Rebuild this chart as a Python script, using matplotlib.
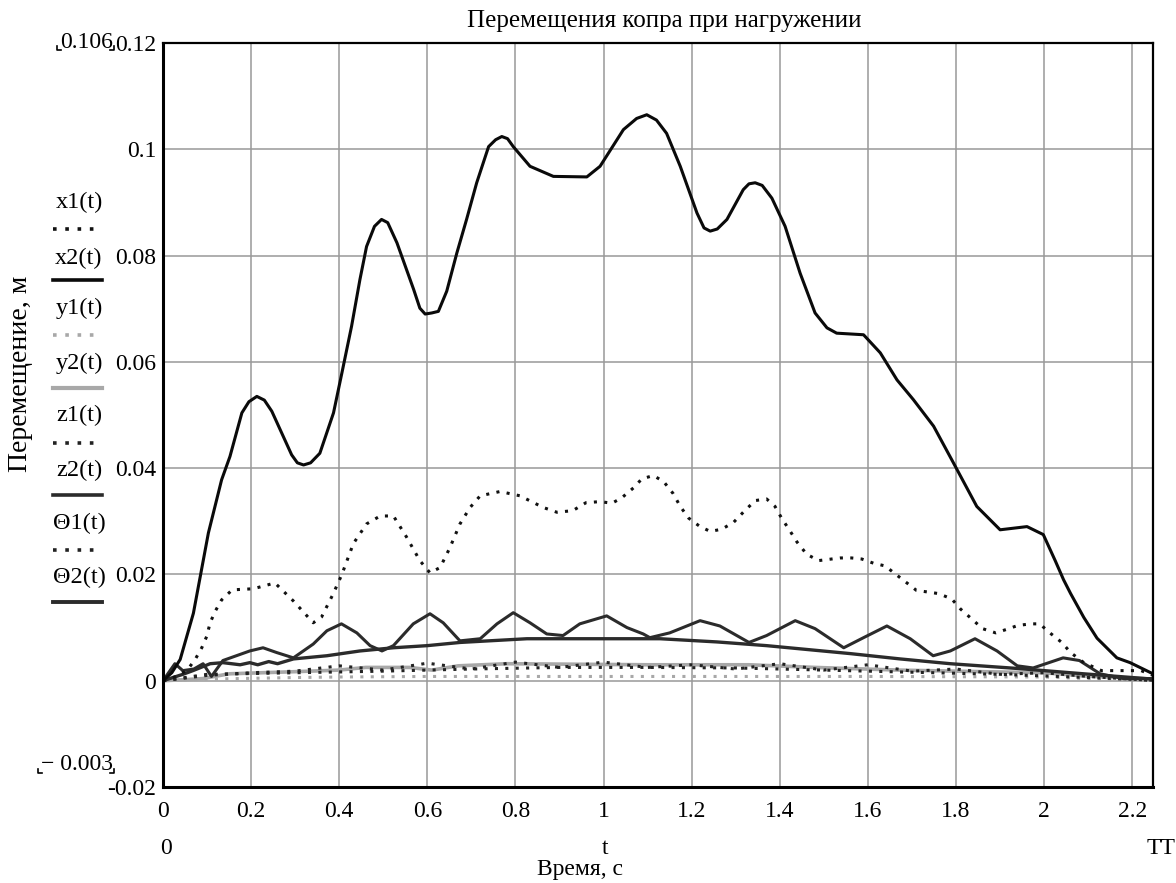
import matplotlib
matplotlib.use("Agg")
import matplotlib.pyplot as plt
from matplotlib.lines import Line2D

plt.rcParams["font.family"] = ["Liberation Serif", "DejaVu Serif"]
plt.rcParams["font.size"] = 17

W, H = 1176, 883

# ── data (t in s, displacement in m) ────────────────────────────────────
t_x2 = [0, 0.02, 0.039, 0.069, 0.103, 0.133, 0.152, 0.179, 0.195, 0.213,
        0.23, 0.247, 0.292, 0.305, 0.319, 0.335, 0.356, 0.387, 0.406, 0.428,
        0.447, 0.462, 0.48, 0.496, 0.51, 0.531, 0.569, 0.583, 0.595, 0.61,
        0.625, 0.644, 0.667, 0.689, 0.712, 0.739, 0.755, 0.769, 0.782, 0.795,
        0.833, 0.886, 0.962, 0.992, 1.045, 1.075, 1.098, 1.12, 1.143, 1.174,
        1.212, 1.228, 1.242, 1.258, 1.28, 1.317, 1.33, 1.344, 1.36, 1.382,
        1.412, 1.446, 1.48, 1.507, 1.529, 1.59, 1.628, 1.666, 1.703, 1.749,
        1.794, 1.847, 1.9, 1.961, 1.998, 2.025, 2.044, 2.06, 2.09, 2.12,
        2.165, 2.195, 2.247]
x2 = [0, 0.0015, 0.004, 0.0127, 0.0278, 0.0378, 0.0422, 0.0504, 0.0525, 0.0535,
      0.0528, 0.0507, 0.0425, 0.041, 0.0406, 0.041, 0.0428, 0.0504, 0.0579, 0.0667,
      0.0755, 0.0817, 0.0855, 0.0868, 0.0862, 0.0824, 0.0736, 0.0701, 0.069, 0.0692,
      0.0695, 0.0733, 0.0805, 0.0868, 0.0937, 0.1005, 0.1018, 0.1024, 0.102, 0.1005,
      0.0968, 0.0949, 0.0948, 0.0968, 0.1037, 0.1058, 0.1065, 0.1055, 0.103, 0.0968,
      0.088, 0.0852, 0.0846, 0.085, 0.0868, 0.0924, 0.0935, 0.0937, 0.0932, 0.0908,
      0.0855, 0.0767, 0.0692, 0.0664, 0.0654, 0.0651, 0.0617, 0.0566, 0.0529, 0.0479,
      0.041, 0.0328, 0.0284, 0.029, 0.0275, 0.0226, 0.019, 0.0164, 0.0119, 0.008,
      0.0043, 0.0034, 0.0013]

t_x1 = [0, 0.03, 0.055, 0.073, 0.088, 0.099, 0.107, 0.118, 0.133, 0.157,
        0.205, 0.254, 0.296, 0.341, 0.36, 0.386, 0.406, 0.432, 0.462, 0.493,
        0.523, 0.553, 0.583, 0.606, 0.629, 0.651, 0.674, 0.697, 0.72, 0.765,
        0.81, 0.863, 0.894, 0.93, 0.96, 0.992, 1.019, 1.041, 1.068, 1.087,
        1.113, 1.136, 1.158, 1.174, 1.193, 1.219, 1.242, 1.268, 1.295, 1.317,
        1.344, 1.37, 1.389, 1.404, 1.423, 1.439, 1.461, 1.488, 1.537, 1.563,
        1.586, 1.613, 1.639, 1.662, 1.69, 1.71, 1.76, 1.79, 1.81, 1.84,
        1.86, 1.89, 1.92, 1.94, 1.97, 1.99, 2.01, 2.04, 2.06, 2.09,
        2.13, 2.19, 2.22, 2.247]
x1 = [0, 0.0008, 0.002, 0.004, 0.0062, 0.0083, 0.0109, 0.013, 0.0152, 0.0171,
      0.0173, 0.0184, 0.015, 0.0109, 0.012, 0.0163, 0.020, 0.0258, 0.0295, 0.031,
      0.031, 0.027, 0.0226, 0.0203, 0.0213, 0.025, 0.0295, 0.0326, 0.0348, 0.0356,
      0.0348, 0.0326, 0.0317, 0.032, 0.0335, 0.0337, 0.0334, 0.0344, 0.0363, 0.038,
      0.0386, 0.0375, 0.0352, 0.0328, 0.0306, 0.029, 0.0281, 0.0285, 0.0298, 0.0317,
      0.0339, 0.0342, 0.0328, 0.0306, 0.0282, 0.0261, 0.0238, 0.0226, 0.0231, 0.0231,
      0.0229, 0.0221, 0.0216, 0.0201, 0.0183, 0.017, 0.0164, 0.0154, 0.0135, 0.0113,
      0.0098, 0.009, 0.0098, 0.0104, 0.0107, 0.0107, 0.0092, 0.0072, 0.0053, 0.0034,
      0.0019, 0.0019, 0.0019, 0.001]

t_y1 = [0, 0.1, 0.3, 0.4, 0.6, 1.0, 1.6, 2.0, 2.1, 2.247]
y1 = [0, 0.0003, 0.0006, 0.0007, 0.0008, 0.0008, 0.0008, 0.0007, 0.0004, 0.0001]

t_y2 = [0, 0.05, 0.09, 0.15, 0.3, 0.4, 0.46, 0.56, 0.61, 0.67, 0.78, 1.1,
        1.33, 1.48, 1.67, 1.86, 2.0, 2.09, 2.247]
y2 = [0, 0.0002, 0.0004, 0.0013, 0.0017, 0.002, 0.0025, 0.0025, 0.002, 0.0028,
      0.0032, 0.003, 0.003, 0.0025, 0.002, 0.0017, 0.0015, 0.0009, 0.0003]

t_z1 = [0, 0.1, 0.2, 0.3, 0.4, 0.5, 0.6, 0.7, 0.8, 0.9, 1.0, 1.1, 1.2,
        1.3, 1.4, 1.5, 1.6, 1.7, 1.8, 1.9, 2.0, 2.1, 2.2, 2.247]
z1 = [0, 0.001, 0.0015, 0.0018, 0.0028, 0.002, 0.0033, 0.0022, 0.0035, 0.0025,
      0.0035, 0.0025, 0.003, 0.0022, 0.0032, 0.002, 0.003, 0.0018, 0.0022, 0.0012,
      0.0015, 0.0008, 0.0003, 0]

t_z2 = [0, 0.027, 0.045, 0.07, 0.091, 0.11, 0.136, 0.197, 0.227, 0.258,
        0.296, 0.341, 0.372, 0.405, 0.44, 0.47, 0.497, 0.523, 0.568, 0.606,
        0.636, 0.674, 0.72, 0.758, 0.795, 0.833, 0.871, 0.908, 0.946, 1.007,
        1.053, 1.09, 1.105, 1.15, 1.219, 1.264, 1.33, 1.37, 1.435, 1.48,
        1.545, 1.59, 1.643, 1.696, 1.748, 1.787, 1.843, 1.893, 1.939, 1.975,
        2.043, 2.08, 2.127, 2.18, 2.247]
z2 = [0, 0.0032, 0.0019, 0.0022, 0.0032, 0.0008, 0.0038, 0.0056, 0.0062, 0.0053,
      0.0043, 0.0069, 0.0094, 0.0107, 0.009, 0.0066, 0.0056, 0.0066, 0.0107, 0.0126,
      0.0109, 0.0075, 0.0079, 0.0107, 0.0128, 0.0109, 0.0088, 0.0085, 0.0107, 0.0122,
      0.010, 0.0088, 0.0081, 0.009, 0.0113, 0.0103, 0.0072, 0.0085, 0.0113, 0.0098,
      0.0062, 0.0081, 0.0103, 0.0079, 0.0047, 0.0056, 0.0079, 0.0056, 0.0028, 0.0024,
      0.0043, 0.0038, 0.0013, 0.0004, 0.0004]

t_th1 = [0, 0.1, 0.3, 0.5, 0.7, 0.9, 1.1, 1.3, 1.5, 1.7, 1.9, 2.1, 2.247]
th1 = [0, 0.0012, 0.0015, 0.0018, 0.0022, 0.0025, 0.0025, 0.0024, 0.002, 0.0016,
       0.0012, 0.0006, 0.0001]

t_th2 = [0, 0.045, 0.068, 0.107, 0.136, 0.175, 0.197, 0.215, 0.24, 0.26,
         0.296, 0.372, 0.447, 0.523, 0.6, 0.674, 0.826, 1.128, 1.257, 1.37,
         1.446, 1.56, 1.673, 1.787, 1.94, 2.09, 2.247]
th2 = [0, 0.0012, 0.0019, 0.0032, 0.0034, 0.003, 0.0034, 0.003, 0.0036, 0.0032,
       0.0041, 0.0047, 0.0056, 0.0062, 0.0066, 0.0072, 0.0079, 0.0079, 0.0073, 0.0066,
       0.006, 0.0051, 0.0041, 0.0032, 0.0023, 0.0013, 0.0003]

names = ["x1(t)", "x2(t)", "y1(t)", "y2(t)", "z1(t)", "z2(t)", "Θ1(t)", "Θ2(t)"]
x_ticks = [0, 0.2, 0.4, 0.6, 0.8, 1, 1.2, 1.4, 1.6, 1.8, 2, 2.2]
x_tick_labels = ["0", "0.2", "0.4", "0.6", "0.8", "1", "1.2", "1.4", "1.6",
                 "1.8", "2", "2.2"]
y_ticks = [-0.02, 0, 0.02, 0.04, 0.06, 0.08, 0.1, 0.12]
y_tick_labels = ["-0.02", "0", "0.02", "0.04", "0.06", "0.08", "0.1", "0.12"]

DOT = (0, (1, 2.4))
STYLE = [dict(color="#111111", ls=DOT, lw=2.2),
         dict(color="#0a0a0a", ls="-", lw=2.2),
         dict(color="#a8a8a8", ls=DOT, lw=2.2),
         dict(color="#a8a8a8", ls="-", lw=2.6),
         dict(color="#222222", ls=DOT, lw=2.2),
         dict(color="#2b2b2b", ls="-", lw=2.2),
         dict(color="#222222", ls=DOT, lw=2.2),
         dict(color="#2b2b2b", ls="-", lw=2.4)]
series = [(t_x1, x1), (t_x2, x2), (t_y1, y1), (t_y2, y2),
          (t_z1, z1), (t_z2, z2), (t_th1, th1), (t_th2, th2)]


def fx(px):
    return px / W


def fy(py):
    return 1 - py / H


fig = plt.figure(figsize=(W / 100, H / 100), dpi=100)
ax = fig.add_axes([fx(163), fy(787), (1153 - 163) / W, (787 - 43) / H])

# draw the small curves first, main ones on top
for i in (2, 3, 6, 4, 7, 5, 0, 1):
    t, v = series[i]
    st = STYLE[i]
    ax.plot(t, v, color=st["color"], linestyle=st["ls"], linewidth=st["lw"],
            dash_capstyle="butt", solid_capstyle="round",
            solid_joinstyle="round")

ax.set_xlim(0, 2.247)
ax.set_ylim(-0.02, 0.12)
ax.set_xticks(x_ticks, x_tick_labels)
ax.set_yticks(y_ticks, y_tick_labels)
ax.tick_params(length=0, labelsize=17)
ax.tick_params(axis="x", pad=10)
ax.tick_params(axis="y", pad=5)
ax.grid(color="#999999", linewidth=1.1)
ax.set_axisbelow(True)
for s in ax.spines.values():
    s.set_linewidth(1.6)
ax.spines["left"].set_linewidth(2.2)
ax.spines["bottom"].set_linewidth(2.2)

# ── Mathcad-style texts round the plot ──────────────────────────────────
fig.text(fx(664), fy(21), "Перемещения копра при нагружении",
         ha="center", va="center", fontsize=18)
fig.text(fx(21), fy(374), "Перемещение, м", rotation=90,
         ha="center", va="center", fontsize=20)
fig.text(fx(580), fy(870), "Время, с", ha="center", va="center", fontsize=17)
fig.text(fx(605), fy(848), "t", ha="center", va="center", fontsize=17)
fig.text(fx(166), fy(848), "0", ha="center", va="center", fontsize=17)
fig.text(fx(1161), fy(848), "TT", ha="center", va="center", fontsize=17)
fig.text(fx(87), fy(42), "0.106", ha="center", va="center", fontsize=17)
fig.text(fx(77), fy(764), "− 0.003", ha="center", va="center", fontsize=17)

# little corner marks of the range labels
for (xa, ya), (dx, dy) in [((57, 50), (1, -1)), ((114, 50), (-1, -1)),
                           ((38, 773), (1, -1)), ((114, 773), (-1, -1))]:
    fig.add_artist(Line2D([fx(xa), fx(xa), fx(xa + 4 * dx)],
                          [fy(ya + 4 * dy), fy(ya), fy(ya)],
                          color="black", lw=1.2))

# legend: name above a short sample line
text_y = [202, 258, 308, 363, 415, 470, 523, 577]
line_y = [229, 280, 335, 388, 443, 495, 550, 602]
for name, st, ty, ly in zip(names, STYLE, text_y, line_y):
    fig.text(fx(79), fy(ty), name, ha="center", va="center", fontsize=17.5)
    fig.add_artist(Line2D([fx(53), fx(102)], [fy(ly), fy(ly)],
                          color=st["color"], linestyle=st["ls"],
                          linewidth=st["lw"] + 0.4, dash_capstyle="butt"))

fig.savefig("out.png", dpi=100)
